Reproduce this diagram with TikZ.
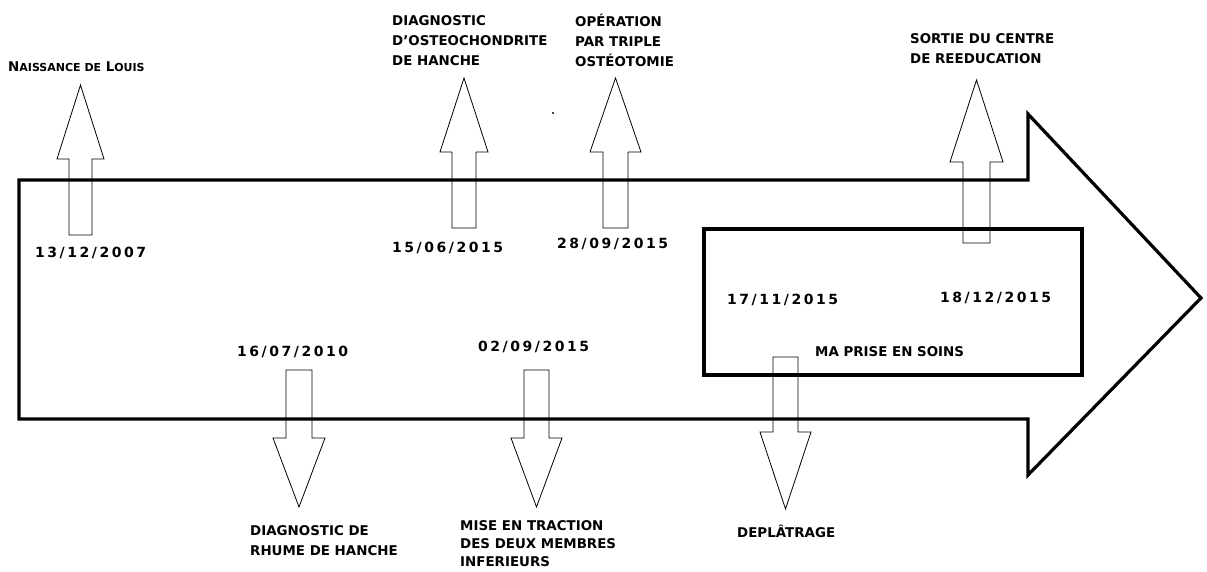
\documentclass[tikz,border=0pt]{standalone}
\usepackage{fontspec}
\setmainfont{DejaVu Sans}
\newfontfamily\datefont{DejaVu Sans}[LetterSpace=18]
\usetikzlibrary{positioning}

\tikzset{
  outline/.style={line width=3.2pt, line join=miter},
  evarrow/.style={line width=0.8pt, line join=miter},
  evlabel/.style={anchor=west, align=left, inner sep=0pt, font=\bfseries\fontsize{13.4}{20}\selectfont},
  evdate/.style={anchor=west, inner sep=0pt, font=\datefont\bfseries\fontsize{14}{16}\selectfont}
}

\begin{document}
\begin{tikzpicture}[x=1pt, y=-1pt]
    \useasboundingbox (0,0) rectangle (1207,571);

    % big timeline arrow
    \draw[outline] (19,180) -- (1028,180) -- (1028,114) -- (1201,298)
        -- (1028,475) -- (1028,419) -- (19,419) -- cycle;

    % box of the care period
    \draw[outline] (704,229) rectangle (1082,375);

    % small event arrows: centre / half shaft / half head / start / head base / tip
    \foreach \cx/\s/\h/\a/\b/\c in {80.5/11.5/23.5/235/159/85, 464/12/24/228/152/78,
        615.5/12.5/25.5/228/152/78, 976.5/13.5/26.5/243/162/80,
        299/13/26/370/438/507, 536.5/12.5/25.5/370/438/507, 785.5/12.5/25.5/357/432/509}
      \draw[evarrow] (\cx-\s,\a) -- (\cx-\s,\b) -- (\cx-\h,\b) -- (\cx,\c)
          -- (\cx+\h,\b) -- (\cx+\s,\b) -- (\cx+\s,\a) -- cycle;

    % stray dot
    \fill (553,113) circle (1.2);

    % events above the line
    \node[evlabel] (naissance) at (8,67) {N{\fontsize{11}{12}\selectfont AISSANCE DE} L{\fontsize{11}{12}\selectfont OUIS}};
    \node[evdate] (d2007) at (35,253) {13/12/2007};
    \node[evlabel] (osteo) at (392,41) {DIAGNOSTIC\\D'OSTEOCHONDRITE\\DE HANCHE};
    \node[evdate] (d1506) at (392,248) {15/06/2015};
    \node[evlabel] (operation) at (575,40) {OPÉRATION\\PAR TRIPLE\\OSTÉOTOMIE};
    \node[evdate] (d2809) at (557,244) {28/09/2015};
    \node[evlabel] (sortie) at (910,49) {SORTIE DU CENTRE\\DE REEDUCATION};

    % inside the care box
    \node[evdate] (d1711) at (727,300) {17/11/2015};
    \node[evdate] (d1812) at (940,298) {18/12/2015};
    \node[evlabel] (soins) at (815,352) {MA PRISE EN SOINS};

    % events below the line
    \node[evdate] (d1607) at (237,352) {16/07/2010};
    \node[evlabel] (rhume) at (250,541) {DIAGNOSTIC DE\\RHUME DE HANCHE};
    \node[evdate] (d0209) at (478,347) {02/09/2015};
    \node[evlabel, font=\bfseries\fontsize{13.4}{18}\selectfont] (traction) at (460,544) {MISE EN TRACTION\\DES DEUX MEMBRES\\INFERIEURS};
    \node[evlabel] (deplatrage) at (737,531) {DEPLÂTRAGE};
\end{tikzpicture}
\end{document}
